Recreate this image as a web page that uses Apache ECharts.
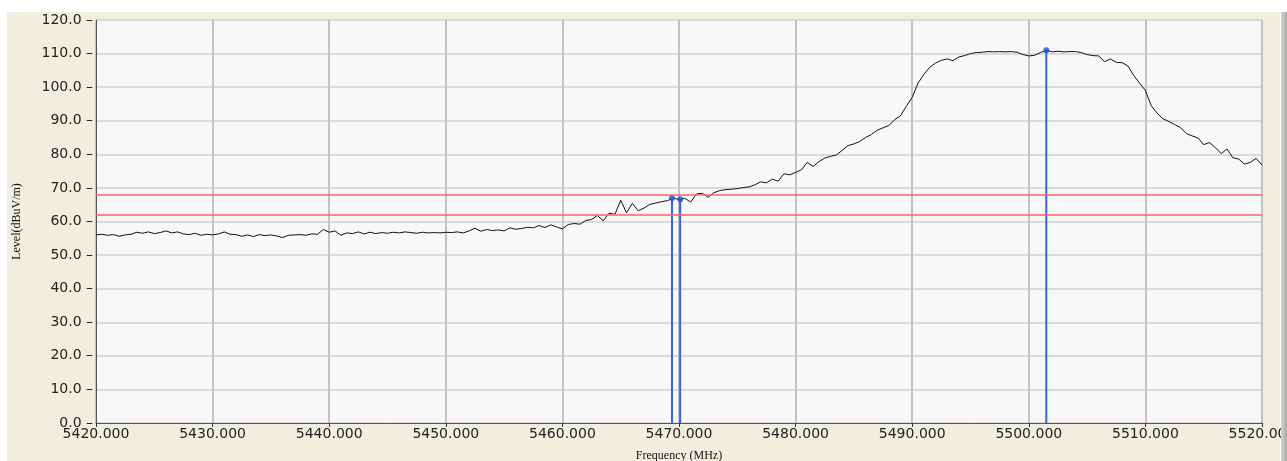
<!DOCTYPE html>
<html>
<head>
<meta charset="utf-8">
<script src="https://cdn.jsdelivr.net/npm/echarts@6/dist/echarts.min.js"></script>
<style>
    html, body { margin: 0; padding: 0; background: #ffffff; }
    #panel { position: absolute; left: 7px; top: 12px; width: 1273px; height: 449px; background: #f1eee0; }
    #edge { position: absolute; left: 1281px; top: 12px; width: 6px; height: 449px; z-index: 5;
            background: linear-gradient(to right, #d8d6cc, #a9a8a2); }
    #chart { position: absolute; left: 0; top: 0; width: 1287px; height: 461px; }
</style>
</head>
<body>
<div id="panel"></div>
<div id="chart"></div>
<div id="edge"></div>
<script>
// 扫频起点与步进 (MHz)
const freqStart = 5420;
const freqStep = 0.5;

// 测量电平 dBuV/m，每 0.5 MHz 一个点
const levels = [
    56.0, 56.2, 55.9, 56.1, 55.6, 56.0, 56.2, 56.8, 56.5, 56.9,
    56.4, 56.7, 57.2, 56.6, 56.9, 56.3, 56.1, 56.5, 55.9, 56.2,
    56.0, 56.3, 56.9, 56.2, 56.1, 55.6, 56.0, 55.5, 56.1, 55.8,
    56.0, 55.7, 55.2, 55.9, 56.0, 56.1, 55.9, 56.3, 56.2, 57.6,
    56.8, 57.2, 55.9, 56.6, 56.4, 56.9, 56.3, 56.8, 56.4, 56.7,
    56.5, 56.8, 56.6, 56.9, 56.7, 56.5, 56.8, 56.6, 56.7, 56.6,
    56.8, 56.7, 56.9, 56.6, 57.2, 58.0, 57.1, 57.6, 57.3, 57.5,
    57.2, 58.1, 57.7, 57.9, 58.3, 58.1, 58.8, 58.2, 59.0, 58.4,
    57.8, 59.1, 59.4, 59.2, 60.3, 60.6, 61.8, 60.2, 62.5, 62.1,
    66.3, 62.6, 65.4, 63.2, 64.0, 65.1, 65.5, 65.9, 66.2, 67.0,
    66.5, 66.9, 65.8, 68.2, 68.4, 67.2, 68.6, 69.2, 69.5, 69.6,
    69.8, 70.1, 70.3, 70.9, 71.8, 71.5, 72.6, 72.0, 74.2, 73.9,
    74.6, 75.4, 77.6, 76.4, 77.8, 78.9, 79.4, 79.8, 81.2, 82.6,
    83.1, 83.8, 85.0, 85.9, 87.2, 87.9, 88.6, 90.3, 91.5, 94.3,
    97.0, 101.2, 103.8, 105.9, 107.2, 108.0, 108.4, 107.9, 109.0, 109.4,
    110.0, 110.3, 110.4, 110.6, 110.5, 110.6, 110.5, 110.6, 110.4, 109.7,
    109.3, 109.5, 110.3, 111.0, 110.5, 110.7, 110.5, 110.6, 110.6, 110.3,
    109.7, 109.4, 109.3, 107.6, 108.4, 107.4, 107.3, 106.3, 103.5, 101.2,
    99.0, 94.5, 92.3, 90.6, 89.8, 88.9, 88.0, 86.2, 85.5, 84.9,
    82.9, 83.5, 82.0, 80.2, 81.6, 79.0, 78.6, 77.1, 77.6, 78.8,
    76.8
];

// 标记点
const markerFreqs = [5469.4, 5470.1, 5501.5];
const markerLevels = [67.0, 66.6, 111.0];

// 限值线
const limitLines = [68.0, 62.0];

const chart = echarts.init(document.getElementById('chart'));

const trace = levels.map((v, i) => [freqStart + i * freqStep, v]);

const markerSeries = markerFreqs.map((f, i) => ({
    type: 'line',
    data: [[f, 0], [f, markerLevels[i]]],
    symbol: 'none',
    silent: true,
    lineStyle: { color: '#3366e6', width: 2 },
    z: 3
}));

const option = {
    animation: false,
    backgroundColor: 'transparent',
    textStyle: { fontFamily: 'DejaVu Sans' },
    grid: {
        left: 96,
        right: 25,
        top: 20,
        bottom: 38,
        outerBoundsMode: 'none',
        containLabel: false,
        show: true,
        backgroundColor: '#f8f8f8',
        borderColor: '#555555',
        borderWidth: 1
    },
    xAxis: {
        type: 'value',
        min: 5420,
        max: 5520,
        interval: 10,
        name: 'Frequency (MHz)',
        nameLocation: 'middle',
        nameGap: 27,
        nameTextStyle: { fontFamily: 'Liberation Serif', fontSize: 12, color: '#111' },
        axisLine: { show: true, lineStyle: { color: '#555555' } },
        axisTick: { show: true, length: 4, inside: false, lineStyle: { color: '#333' } },
        axisLabel: {
            formatter: v => v.toFixed(3),
            fontSize: 14,
            color: '#222',
            margin: 4,
            showMaxLabel: true,
            hideOverlap: false
        },
        splitLine: { show: true, lineStyle: { color: '#c2c2c2', width: 2 } }
    },
    yAxis: {
        type: 'value',
        min: 0,
        max: 120,
        interval: 10,
        name: 'Level(dBuV/m)',
        nameLocation: 'middle',
        nameGap: 73,
        nameTextStyle: { fontFamily: 'Liberation Serif', fontSize: 12, color: '#111' },
        axisLine: { show: true, lineStyle: { color: '#555555' } },
        axisTick: { show: false },
        axisLabel: {
            formatter: v => v.toFixed(1) + ' \u2013',
            fontSize: 14,
            color: '#222',
            margin: 3
        },
        splitLine: { show: true, lineStyle: { color: '#dadada', width: 2 } }
    },
    series: [
        {
            type: 'line',
            data: trace,
            symbol: 'none',
            silent: true,
            lineStyle: { color: '#111111', width: 1 },
            z: 2,
            markLine: {
                silent: true,
                symbol: 'none',
                label: { show: false },
                lineStyle: { color: '#ff6060', width: 1.5, type: 'solid' },
                data: limitLines.map(v => ({ yAxis: v }))
            }
        },
        ...markerSeries,
        {
            type: 'scatter',
            data: markerFreqs.map((f, i) => [f, markerLevels[i]]),
            symbol: 'circle',
            symbolSize: 6,
            silent: true,
            itemStyle: { color: '#1f4fd6' },
            z: 4
        }
    ]
};

chart.setOption(option);
</script>
</body>
</html>
